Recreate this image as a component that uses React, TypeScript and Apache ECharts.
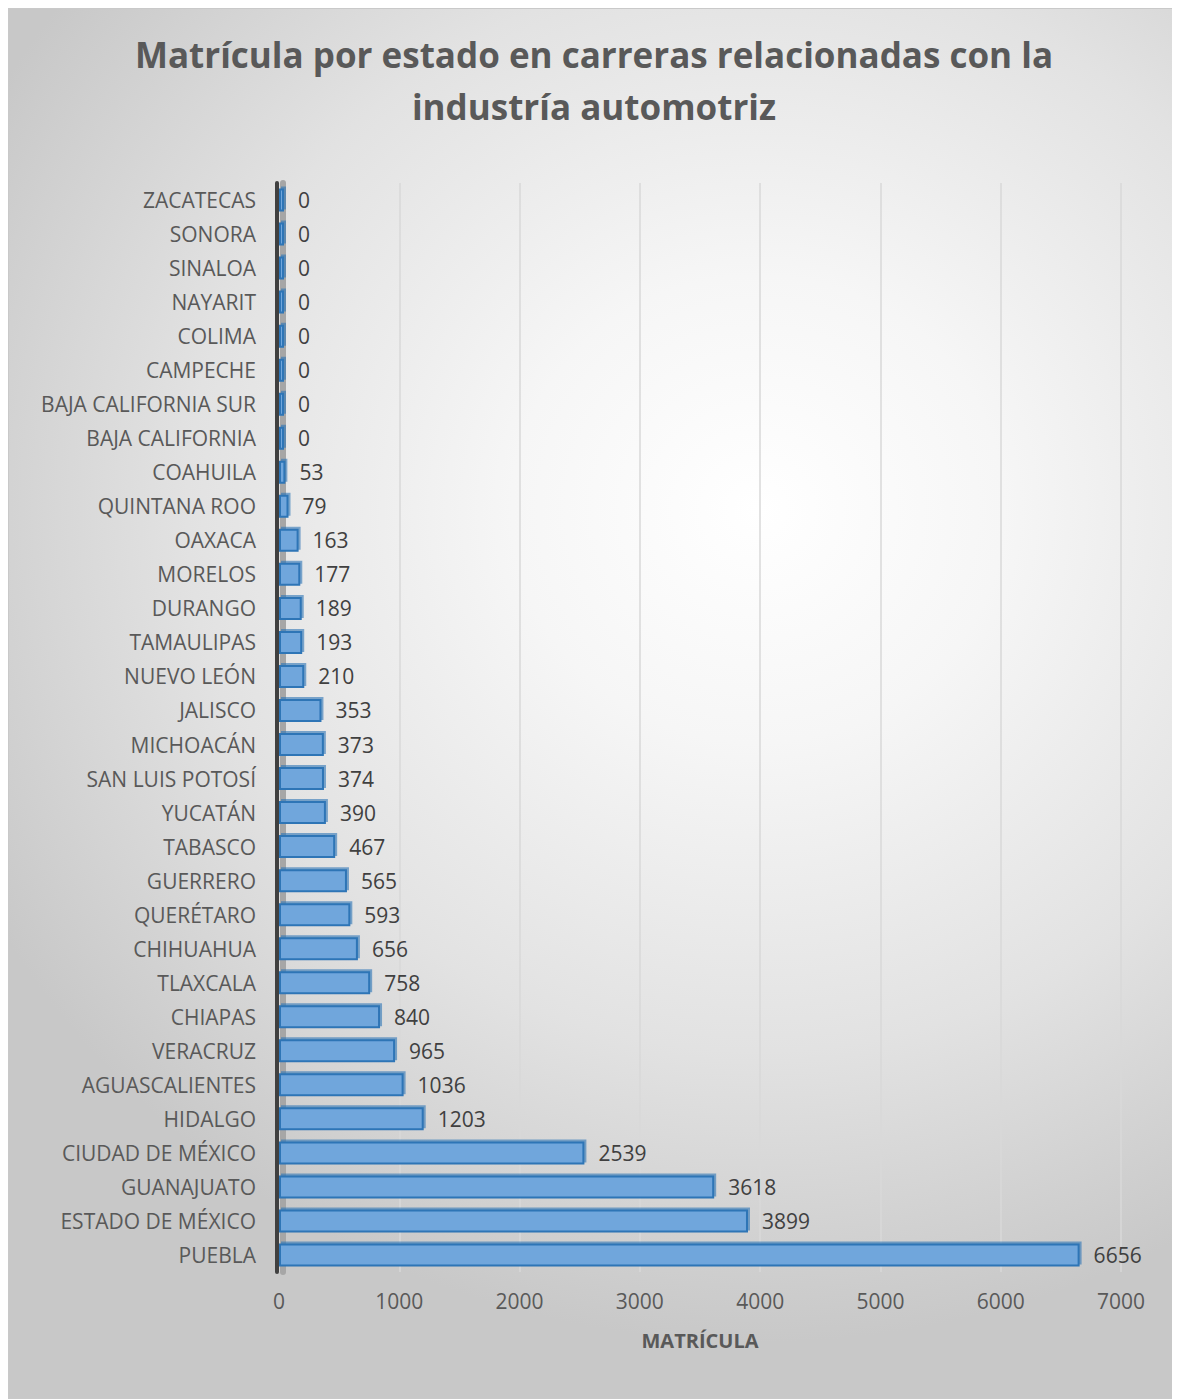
import React, { useEffect, useRef } from "react";
import * as echarts from "echarts";

const TITLE = "Matrícula por estado en carreras relacionadas con la\nindustría automotriz";
const AXIS_NAME = "MATRÍCULA";

// bottom to top
const categories = [
  "PUEBLA", "ESTADO DE MÉXICO", "GUANAJUATO", "CIUDAD DE MÉXICO", "HIDALGO",
  "AGUASCALIENTES", "VERACRUZ", "CHIAPAS", "TLAXCALA", "CHIHUAHUA",
  "QUERÉTARO", "GUERRERO", "TABASCO", "YUCATÁN", "SAN LUIS POTOSÍ",
  "MICHOACÁN", "JALISCO", "NUEVO LEÓN", "TAMAULIPAS", "DURANGO",
  "MORELOS", "OAXACA", "QUINTANA ROO", "COAHUILA", "BAJA CALIFORNIA",
  "BAJA CALIFORNIA SUR", "CAMPECHE", "COLIMA", "NAYARIT", "SINALOA",
  "SONORA", "ZACATECAS",
];

const values = [
  6656, 3899, 3618, 2539, 1203,
  1036, 965, 840, 758, 656,
  593, 565, 467, 390, 374,
  373, 353, 210, 193, 189,
  177, 163, 79, 53, 0,
  0, 0, 0, 0, 0,
  0, 0,
];

const AXIS_MIN = 0;
const AXIS_MAX = 7000;
const AXIS_INTERVAL = 1000;

const FONT = "'Open Sans', 'Noto Sans', sans-serif";

export default function App() {
  const ref = useRef<HTMLDivElement>(null);
  useEffect(() => {
    if (!ref.current) return;
    const chart = echarts.init(ref.current, undefined, { renderer: "svg" });
    chart.setOption({
      animation: false,
      backgroundColor: "transparent",
      textStyle: { fontFamily: FONT },
      title: {
        text: TITLE,
        left: "center",
        top: 14,
        textStyle: {
          fontFamily: FONT,
          fontSize: 35,
          fontWeight: "bold",
          color: "#595959",
          lineHeight: 52,
        },
      },
      grid: { left: 270, right: 58, top: 174, bottom: 126, containLabel: false },
      xAxis: {
        type: "value",
        min: AXIS_MIN,
        max: AXIS_MAX,
        interval: AXIS_INTERVAL,
        name: AXIS_NAME,
        nameLocation: "middle",
        nameGap: 58,
        nameTextStyle: { fontFamily: FONT, fontSize: 20, fontWeight: "bold", color: "#595959" },
        axisLine: { show: false },
        axisTick: { show: false },
        axisLabel: {
          fontFamily: FONT,
          fontSize: 21,
          color: "#595959",
          margin: 18,
          formatter: (v: number) => String(v),
        },
        splitLine: { show: true, lineStyle: { color: "#d9d9d9", width: 1.5 } },
      },
      yAxis: [
        {
          type: "category",
          data: categories,
          offset: 2,
          z: 3,
          axisLine: {
            show: true,
            onZero: false,
            lineStyle: { color: "#404040", width: 4, cap: "round" },
          },
          axisTick: { show: false },
          axisLabel: { fontFamily: FONT, fontSize: 21, color: "#595959", margin: 21 },
        },
        {
          type: "category",
          data: categories,
          position: "left",
          offset: -4,
          z: 0,
          axisLine: {
            show: true,
            onZero: false,
            lineStyle: { color: "#a6a6a6", width: 6 },
          },
          axisTick: { show: false },
          axisLabel: { show: false },
          splitLine: { show: false },
        },
      ],
      series: [
        {
          type: "bar",
          data: values,
          yAxisIndex: 0,
          barWidth: 23,
          barMinHeight: 5,
          z: 2,
          itemStyle: {
            color: "#6fa6dc",
            borderColor: "#2e75b6",
            borderWidth: 2,
            shadowColor: "rgba(46,117,182,0.6)",
            shadowOffsetX: 2,
            shadowOffsetY: -2,
            shadowBlur: 0,
          },
          label: {
            show: true,
            position: "right",
            distance: 14,
            fontFamily: FONT,
            fontSize: 21,
            color: "#404040",
          },
        },
      ],
    });
    return () => chart.dispose();
  }, []);
  return (
    <div
      style={{
        width: 1170,
        height: 1389,
        border: "1px solid #c9c9c9",
        background:
          "radial-gradient(ellipse 75% 60% at 64% 36%, #ffffff 0%, #f6f6f6 28%, #e2e2e2 65%, #c8c8c8 100%)",
      }}
    >
      <div ref={ref} style={{ width: 1170, height: 1389 }} />
    </div>
  );
}
